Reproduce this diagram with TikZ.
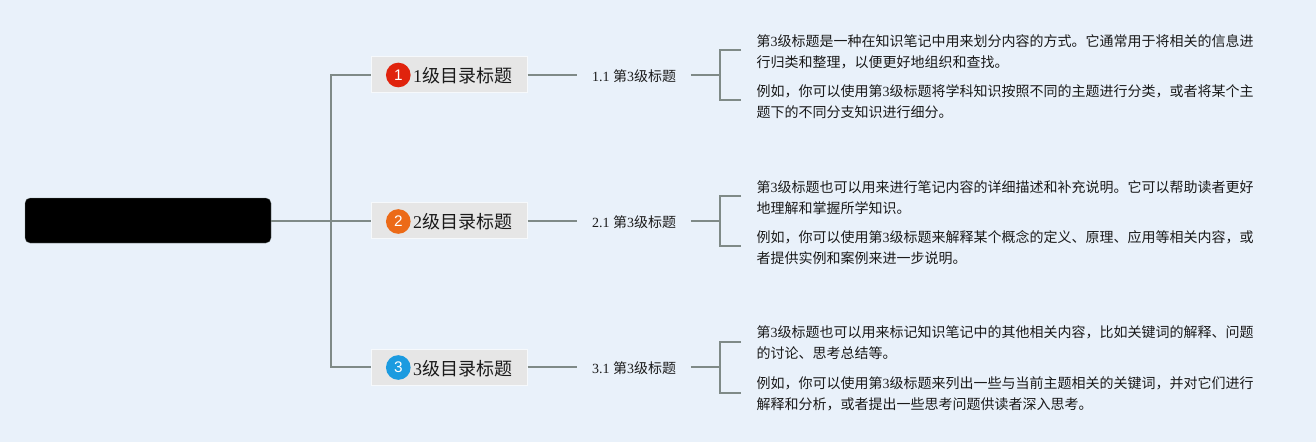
\documentclass[tikz,border=0pt]{standalone}
\usepackage{fontspec}
\setmainfont{Noto Sans CJK SC}
\newfontfamily\latfont{Liberation Serif}
\newfontfamily\numfont{Liberation Sans}
\newcommand{\lat}[1]{{\latfont #1}}
\newcommand{\lvl}[1]{\hspace*{31.5pt}\raisebox{-6pt}[0pt][0pt]{\lat{#1}级目录标题}\hspace*{11.25pt}}
\newcommand{\subt}[1]{\raisebox{-4.8pt}[0pt][0pt]{\lat{#1 }第\lat{3}级标题}}
\definecolor{bgc}{HTML}{E9F1FA}
\definecolor{linec}{HTML}{7F8A87}
\definecolor{boxc}{HTML}{E6E6E6}
\definecolor{boxedge}{HTML}{F6F9FC}
\definecolor{redc}{HTML}{E0230D}
\definecolor{orangec}{HTML}{EC6A17}
\definecolor{bluec}{HTML}{1B9BE0}
\definecolor{textc}{HTML}{1A1A1A}
\tikzset{
  rootbox/.style={fill=black,draw=linec,line width=0.2pt,rounded corners=3.75pt,minimum width=184.5pt,minimum height=33.75pt,inner sep=0pt},
  levelbox/.style={fill=boxc,draw=boxedge,line width=0.75pt,minimum width=117pt,minimum height=27pt,inner sep=0pt,font=\fontsize{13.5pt}{16pt}\selectfont,text=textc},
  subbox/.style={minimum width=84.75pt,inner sep=0pt,minimum height=15pt,font=\fontsize{10.5pt}{13pt}\selectfont,text=textc},
  bodybox/.style={anchor=west,align=left,inner xsep=11.5pt,inner ysep=0pt,font=\fontsize{10.5pt}{15.75pt}\selectfont,text=textc},
  badge/.style={circle,minimum size=18.5pt,inner sep=0pt,text=white,font=\numfont\fontsize{11.5pt}{14pt}\selectfont},
  conn/.style={draw=linec,line width=1.5pt},
}
\begin{document}
\begin{tikzpicture}[x=0.75pt,y=-0.75pt]
\useasboundingbox (0,0) rectangle (1316,442);
\fill[bgc] (0,0) rectangle (1316,442);
\node[rootbox] (root) at (148,220.5) {};
% level 1
\node[levelbox] (a) at (449,74.7) {\lvl{1}};
\node[levelbox] (b) at (449,220.8) {\lvl{2}};
\node[levelbox] (c) at (449,367) {\lvl{3}};
\node[badge,fill=redc] (ba) at (398.3,75) {1};
\node[badge,fill=orangec] (bb) at (398.3,221.5) {2};
\node[badge,fill=bluec] (bc) at (398.3,367.5) {3};
% level 2
\node[subbox] (a1) at (634,74.7) {\subt{1.1}};
\node[subbox] (b1) at (634,220.8) {\subt{2.1}};
\node[subbox] (c1) at (634,367) {\subt{3.1}};
% body text
\node[bodybox] (a2) at (741,52) {第\lat{3}级标题是一种在知识笔记中用来划分内容的方式。它通常用于将相关的信息进\\行归类和整理，以便更好地组织和查找。};
\node[bodybox] (a3) at (741,102) {例如，你可以使用第\lat{3}级标题将学科知识按照不同的主题进行分类，或者将某个主\\题下的不同分支知识进行细分。};
\node[bodybox] (b2) at (741,197.5) {第\lat{3}级标题也可以用来进行笔记内容的详细描述和补充说明。它可以帮助读者更好\\地理解和掌握所学知识。};
\node[bodybox] (b3) at (741,247.5) {例如，你可以使用第\lat{3}级标题来解释某个概念的定义、原理、应用等相关内容，或\\者提供实例和案例来进一步说明。};
\node[bodybox] (c2) at (741,343) {第\lat{3}级标题也可以用来标记知识笔记中的其他相关内容，比如关键词的解释、问题\\的讨论、思考总结等。};
\node[bodybox] (c3) at (741,393.5) {例如，你可以使用第\lat{3}级标题来列出一些与当前主题相关的关键词，并对它们进行\\解释和分析，或者提出一些思考问题供读者深入思考。};
% connectors
\coordinate (tr) at (331,220.8);
\draw[conn] (root.east |- tr) -- (b.west);
\draw[conn] (a.west) -| (tr) |- (c.west);
\draw[conn] (a.east) -- (a1.west);
\draw[conn] (b.east) -- (b1.west);
\draw[conn] (c.east) -- (c1.west);
\coordinate (ja) at (720,74.7);
\coordinate (jb) at (720,220.8);
\coordinate (jc) at (720,367);
\draw[conn] (a1.east) -- (ja);
\draw[conn] (b1.east) -- (jb);
\draw[conn] (c1.east) -- (jc);
\draw[conn] ([yshift=1.5pt]a2.west) -| (ja) |- ([yshift=1.5pt]a3.west);
\draw[conn] ([yshift=1.1pt]b2.west) -| (jb) |- ([yshift=1.1pt]b3.west);
\draw[conn] ([yshift=0.75pt]c2.west) -| (jc) |- ([yshift=0.75pt]c3.west);
\end{tikzpicture}
\end{document}
